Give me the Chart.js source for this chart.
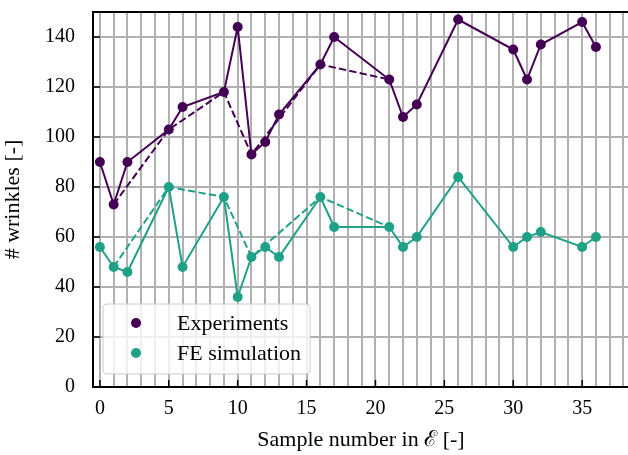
<!DOCTYPE html>
<html lang="en">
<head>
  <meta charset="UTF-8">
  <title>Wrinkles per sample</title>
  <script src="https://cdn.jsdelivr.net/npm/chart.js"></script>
  <style>
    html, body { margin: 0; padding: 0; background: #fff; overflow: hidden; }
    /* the axes run on past the right edge, so the canvas is a bit wider than the page */
    #wrap { width: 628px; height: 455px; overflow: hidden; }
  </style>
</head>
<body>
  <div id="wrap"><canvas id="wrinkleChart" width="634" height="455"></canvas></div>

  <script>
    // sample numbers and wrinkle counts
    const samples = [0, 1, 2, 5, 6, 9, 10, 11, 12, 13, 16, 17, 21, 22, 23, 26, 30, 31, 32, 35, 36];
    const experiments = [90, 73, 90, 103, 112, 118, 144, 93, 98, 109, 129, 140, 123, 108, 113, 147, 135, 123, 137, 146, 136];
    const simulation = [56, 48, 46, 80, 48, 76, 36, 52, 56, 52, 76, 64, 64, 56, 60, 84, 56, 60, 62, 56, 60];

    // subset joined by the dashed lines
    const subsetSamples = [1, 5, 9, 11, 16, 21];
    const subsetExperiments = [73, 103, 118, 93, 129, 123];
    const subsetSimulation = [48, 80, 76, 52, 76, 64];

    const xLabelTicks = [0, 5, 10, 15, 20, 25, 30, 35];
    const yTicks = [0, 20, 40, 60, 80, 100, 120, 140];
    const xRange = [-0.5, 38.4];
    const yRange = [0, 150];

    const purple = '#440154';
    const teal = '#1fa187';
    const serif = '"Liberation Serif", "Times New Roman", serif';

    const toPoints = (xs, ys) => xs.map((x, i) => ({ x: x, y: ys[i] }));

    function solidSet(label, color, ys) {
      return {
        label: label,
        legend: true,
        data: toPoints(samples, ys),
        borderColor: color,
        backgroundColor: color,
        borderWidth: 2,
        pointRadius: 5,
        pointBorderWidth: 0,
        pointBackgroundColor: color,
        order: 1
      };
    }

    function dashedSet(color, ys) {
      return {
        label: '',
        legend: false,
        data: toPoints(subsetSamples, ys),
        borderColor: color,
        borderWidth: 2,
        borderDash: [7.4, 3.2],
        pointRadius: 0,
        order: 2
      };
    }

    // top spine plus inward tick marks
    const frame = {
      id: 'frame',
      afterDatasetsDraw(chart) {
        const ctx = chart.ctx, a = chart.chartArea;
        const xs = chart.scales.x, ys = chart.scales.y;
        ctx.save();
        ctx.strokeStyle = '#000';
        ctx.lineWidth = 2;
        ctx.beginPath();
        ctx.moveTo(a.left - 1, a.top);
        ctx.lineTo(chart.width, a.top);
        ctx.stroke();
        ctx.lineWidth = 1.5;
        ctx.beginPath();
        yTicks.forEach(v => {
          const py = ys.getPixelForValue(v);
          ctx.moveTo(a.left, py);
          ctx.lineTo(a.left + 7, py);
        });
        xLabelTicks.forEach(v => {
          const px = xs.getPixelForValue(v);
          ctx.moveTo(px, a.bottom);
          ctx.lineTo(px, a.bottom - 7);
        });
        ctx.stroke();
        ctx.restore();
      }
    };

    // framed legend in the lower left corner of the plot
    const boxLegend = {
      id: 'boxLegend',
      afterDraw(chart) {
        const ctx = chart.ctx, a = chart.chartArea;
        const items = chart.data.datasets.filter(d => d.legend);
        ctx.save();
        ctx.font = '22px ' + serif;
        const textW = Math.max(...items.map(d => ctx.measureText(d.label).width));
        const rowH = 30;
        const h = items.length * rowH + 10;
        const w = 74 + textW + 9;
        const x0 = a.left + 10;
        const y0 = a.bottom - 13 - h;
        ctx.beginPath();
        ctx.roundRect(x0, y0, w, h, 4);
        ctx.fillStyle = 'rgba(255,255,255,0.8)';
        ctx.fill();
        ctx.strokeStyle = '#cccccc';
        ctx.lineWidth = 1;
        ctx.stroke();
        items.forEach((d, i) => {
          const cy = y0 + 19 + i * rowH;
          ctx.beginPath();
          ctx.arc(x0 + 33, cy, 5, 0, Math.PI * 2);
          ctx.fillStyle = d.borderColor;
          ctx.fill();
          ctx.fillStyle = '#000';
          ctx.textBaseline = 'middle';
          ctx.textAlign = 'left';
          ctx.fillText(d.label, x0 + 74, cy + 1);
        });
        ctx.restore();
      }
    };

    new Chart(document.getElementById('wrinkleChart'), {
      type: 'line',
      data: {
        datasets: [
          dashedSet(purple, subsetExperiments),
          dashedSet(teal, subsetSimulation),
          solidSet('Experiments', purple, experiments),
          solidSet('FE simulation', teal, simulation)
        ]
      },
      options: {
        responsive: false,
        animation: false,
        events: [],
        devicePixelRatio: 1,
        layout: { padding: { top: 12, left: 0, right: 0, bottom: 0 } },
        plugins: { legend: { display: false }, tooltip: { enabled: false } },
        scales: {
          x: {
            type: 'linear',
            min: xRange[0],
            max: xRange[1],
            afterBuildTicks: s => {
              const t = [];
              for (let v = Math.ceil(xRange[0]); v <= Math.floor(xRange[1]); v++) t.push({ value: v });
              s.ticks = t;
            },
            afterFit: s => {
              s.height = 68;
              s.paddingLeft = 0;
              s.paddingRight = 0;
            },
            grid: { color: '#b0b0b0', lineWidth: 2, drawTicks: false },
            border: { color: '#000', width: 2 },
            ticks: {
              autoSkip: false,
              maxRotation: 0,
              padding: 12,
              color: '#000',
              font: { family: serif, size: 20, lineHeight: 1 },
              callback: v => xLabelTicks.includes(v) ? String(v) : ''
            },
            title: {
              display: true,
              text: 'Sample number in ℰ [-]',
              color: '#000',
              font: { family: serif, size: 22, lineHeight: 1.2 },
              padding: { top: 0, bottom: 2 }
            }
          },
          y: {
            min: yRange[0],
            max: yRange[1],
            afterBuildTicks: s => { s.ticks = yTicks.map(v => ({ value: v })); },
            afterFit: s => {
              s.width = 93;
              s.paddingTop = 0;
              s.paddingBottom = 0;
            },
            grid: { color: '#b0b0b0', lineWidth: 2, drawTicks: false },
            border: { color: '#000', width: 2 },
            ticks: {
              padding: 18,
              color: '#000',
              font: { family: serif, size: 20, lineHeight: 1 }
            },
            title: {
              display: true,
              text: '# wrinkles [-]',
              color: '#000',
              font: { family: serif, size: 22, lineHeight: 1.2 },
              padding: { top: 0, bottom: 6 }
            }
          }
        }
      },
      plugins: [frame, boxLegend]
    });
  </script>
</body>
</html>
